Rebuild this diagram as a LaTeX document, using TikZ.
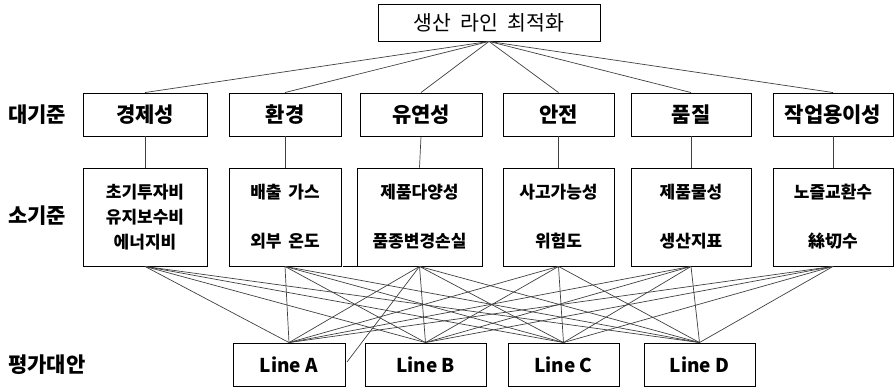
\documentclass[tikz,border=0pt]{standalone}
\usepackage{fontspec}
\setmainfont{Noto Sans CJK KR}
\begin{document}
\begin{tikzpicture}[x=1pt,y=-1pt,
  box/.style={draw, line width=0.9pt, inner sep=0pt, align=center},
  goalbox/.style={box, minimum width=222pt, minimum height=37pt, font=\fontsize{20.5}{22}\selectfont},
  critbox/.style={box, minimum height=43pt, font=\fontsize{21}{23}\selectfont\bfseries},
  subbox/.style={box, minimum height=98pt, font=\fontsize{17}{25}\selectfont\bfseries},
  altbox/.style={box, minimum height=43pt, font=\fontsize{19}{21}\selectfont\bfseries},
  lvl/.style={anchor=west, inner sep=0pt, font=\fontsize{21}{23}\selectfont\bfseries},
  link/.style={draw=black!75, line width=0.7pt}]
\useasboundingbox (0,0) rectangle (895,387);
% goal
\node[goalbox] (goal) at (489,22.5) {생산\hspace{0.45em}라인\hspace{0.45em}최적화};
% level labels
\node[lvl] (l1) at (8,114.5) {대기준};
\node[lvl] (l2) at (8,216) {소기준};
\node[lvl] (l3) at (8,364.5) {평가대안};
% criteria
\node[critbox, minimum width=124pt] (c1) at (145,114.5) {경제성};
\node[critbox, minimum width=112pt] (c2) at (285,114.5) {환경};
\node[critbox, minimum width=122pt] (c3) at (421,114.5) {유연성};
\node[critbox, minimum width=111pt] (c4) at (558.5,114.5) {안전};
\node[critbox, minimum width=120pt] (c5) at (691,114.5) {품질};
\node[critbox, minimum width=120pt] (c6) at (833,114.5) {작업용이성};
% sub criteria
\node[subbox, minimum width=124pt] (s1) at (145,217) {초기투자비\\유지보수비\\에너지비};
\node[subbox, minimum width=112pt] (s2) at (285,217) {배출\hspace{0.4em}가스\\[24pt]외부\hspace{0.4em}온도};
\node[subbox, minimum width=125pt] (s3) at (419.5,217) {제품다양성\\[24pt]품종변경손실};
\node[subbox, minimum width=111pt] (s4) at (558.5,217) {사고가능성\\[24pt]위험도};
\node[subbox, minimum width=120pt] (s5) at (691,217) {제품물성\\[24pt]생산지표};
\node[subbox, minimum width=120pt] (s6) at (833,217) {노즐교환수\\[24pt]絲切수};
% alternatives
\node[altbox, minimum width=112pt] (lineA) at (289,364.5) {Line A};
\node[altbox, minimum width=121pt] (lineB) at (425.5,364.5) {Line B};
\node[altbox, minimum width=111pt] (lineC) at (563.5,364.5) {Line C};
\node[altbox, minimum width=111pt] (lineD) at (699.5,364.5) {Line D};
% links
\foreach \i in {1,...,6}{
  \draw[link] (goal.south) -- (c\i.north);
  \draw[link] (c\i.south) -- (s\i.north);
  \foreach \a in {A,B,C,D}
    \draw[link] (s\i.south) -- (line\a.north);
}
\coordinate (stray) at (347,362);
\draw[link] (s3.south) -- (stray);
\draw[line width=0.9pt] (s3.south west) -- ++(-14,0);
\end{tikzpicture}
\end{document}
